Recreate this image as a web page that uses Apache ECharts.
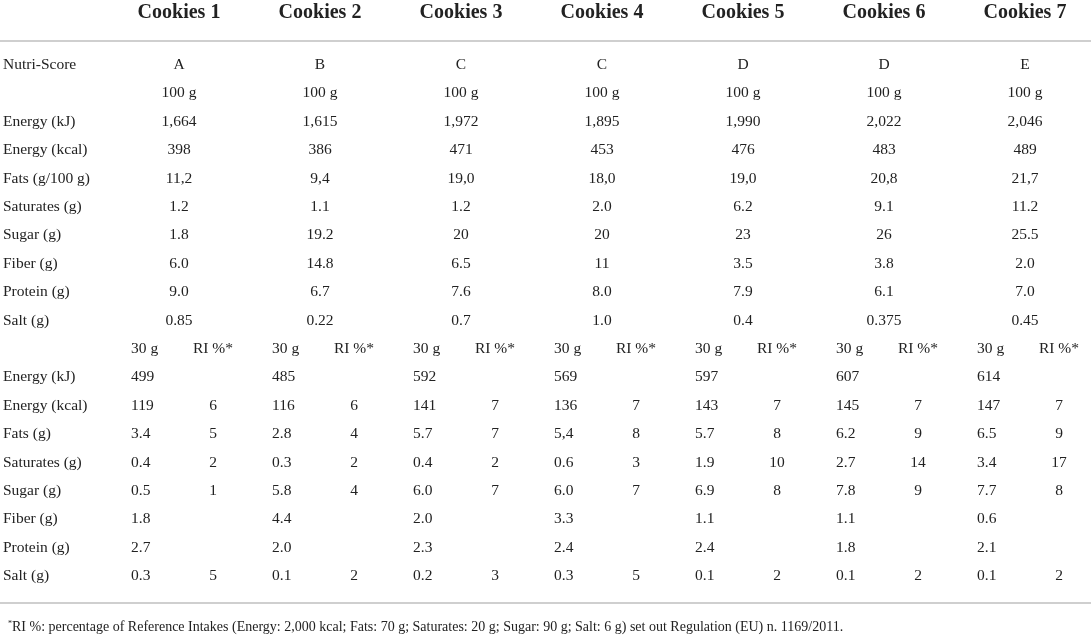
<!DOCTYPE html>
<html>
<head>
<meta charset="utf-8">
<title>Cookies nutrition table</title>
<script src="https://cdn.jsdelivr.net/npm/echarts@6/dist/echarts.min.js"></script>
<style>
  html, body { margin: 0; padding: 0; background: #fff; }
  #container { width: 1091px; height: 636px; }
</style>
</head>
<body>
<div id="container"></div>
<script>
// column headers
var cookies = ['Cookies 1', 'Cookies 2', 'Cookies 3', 'Cookies 4', 'Cookies 5', 'Cookies 6', 'Cookies 7'];

// row labels (top block per 100 g, bottom block per 30 g)
var rowLabels = [
    'Nutri-Score', '', 'Energy (kJ)', 'Energy (kcal)', 'Fats (g/100 g)', 'Saturates (g)',
    'Sugar (g)', 'Fiber (g)', 'Protein (g)', 'Salt (g)',
    '', 'Energy (kJ)', 'Energy (kcal)', 'Fats (g)', 'Saturates (g)', 'Sugar (g)',
    'Fiber (g)', 'Protein (g)', 'Salt (g)'
];

// per 100 g
var nutriScore = ['A', 'B', 'C', 'C', 'D', 'D', 'E'];
var unit100 = ['100 g', '100 g', '100 g', '100 g', '100 g', '100 g', '100 g'];
var energyKj100 = ['1,664', '1,615', '1,972', '1,895', '1,990', '2,022', '2,046'];
var energyKcal100 = ['398', '386', '471', '453', '476', '483', '489'];
var fats100 = ['11,2', '9,4', '19,0', '18,0', '19,0', '20,8', '21,7'];
var saturates100 = ['1.2', '1.1', '1.2', '2.0', '6.2', '9.1', '11.2'];
var sugar100 = ['1.8', '19.2', '20', '20', '23', '26', '25.5'];
var fiber100 = ['6.0', '14.8', '6.5', '11', '3.5', '3.8', '2.0'];
var protein100 = ['9.0', '6.7', '7.6', '8.0', '7.9', '6.1', '7.0'];
var salt100 = ['0.85', '0.22', '0.7', '1.0', '0.4', '0.375', '0.45'];

// per 30 g and RI %
var unit30 = ['30 g', '30 g', '30 g', '30 g', '30 g', '30 g', '30 g'];
var riHead = ['RI %*', 'RI %*', 'RI %*', 'RI %*', 'RI %*', 'RI %*', 'RI %*'];
var energyKj30 = ['499', '485', '592', '569', '597', '607', '614'];
var energyKcal30 = ['119', '116', '141', '136', '143', '145', '147'];
var energyKcalRI = ['6', '6', '7', '7', '7', '7', '7'];
var fats30 = ['3.4', '2.8', '5.7', '5,4', '5.7', '6.2', '6.5'];
var fatsRI = ['5', '4', '7', '8', '8', '9', '9'];
var saturates30 = ['0.4', '0.3', '0.4', '0.6', '1.9', '2.7', '3.4'];
var saturatesRI = ['2', '2', '2', '3', '10', '14', '17'];
var sugar30 = ['0.5', '5.8', '6.0', '6.0', '6.9', '7.8', '7.7'];
var sugarRI = ['1', '4', '7', '7', '8', '9', '8'];
var fiber30 = ['1.8', '4.4', '2.0', '3.3', '1.1', '1.1', '0.6'];
var protein30 = ['2.7', '2.0', '2.3', '2.4', '2.4', '1.8', '2.1'];
var salt30 = ['0.3', '0.1', '0.2', '0.3', '0.1', '0.1', '0.1'];
var saltRI = ['5', '2', '3', '5', '2', '2', '2'];

var footnote = 'RI %: percentage of Reference Intakes (Energy: 2,000 kcal; Fats: 70 g; Saturates: 20 g; Sugar: 90 g; Salt: 6 g) set out Regulation (EU) n. 1169/2011.';

var FONT = '"Liberation Serif", "DejaVu Serif", serif';
var TEXT_COLOR = '#222';
var LINE_COLOR = '#cfcfcf';

// row index -> [values, kind]   kind: c = centred, g = 30 g column, r = RI column
var rowCols = [
    [[nutriScore, 'c']], [[unit100, 'c']], [[energyKj100, 'c']], [[energyKcal100, 'c']],
    [[fats100, 'c']], [[saturates100, 'c']], [[sugar100, 'c']], [[fiber100, 'c']],
    [[protein100, 'c']], [[salt100, 'c']],
    [[unit30, 'g'], [riHead, 'r']],
    [[energyKj30, 'g']],
    [[energyKcal30, 'g'], [energyKcalRI, 'r']],
    [[fats30, 'g'], [fatsRI, 'r']],
    [[saturates30, 'g'], [saturatesRI, 'r']],
    [[sugar30, 'g'], [sugarRI, 'r']],
    [[fiber30, 'g']],
    [[protein30, 'g']],
    [[salt30, 'g'], [saltRI, 'r']]
];

var cells = [];
rowCols.forEach(function (cols, row) {
    cols.forEach(function (c) {
        c[0].forEach(function (txt, col) {
            cells.push({ col: col, row: row, text: txt, kind: c[1] });
        });
    });
});

var myChart = echarts.init(document.getElementById('container'));

var option = {
    animation: false,
    backgroundColor: '#fff',
    title: {
        left: 3,
        top: 615,
        text: '{s|*}' + footnote,
        textStyle: {
            fontFamily: FONT,
            fontSize: 14,
            fontWeight: 'normal',
            color: TEXT_COLOR,
            rich: {
                s: { fontFamily: FONT, fontSize: 8, verticalAlign: 'top', color: TEXT_COLOR }
            }
        }
    },
    // table rules, full width
    graphic: [
        { type: 'line', shape: { x1: 0, y1: 41, x2: 1091, y2: 41 }, style: { stroke: LINE_COLOR, lineWidth: 2 } },
        { type: 'line', shape: { x1: 0, y1: 603, x2: 1091, y2: 603 }, style: { stroke: LINE_COLOR, lineWidth: 2 } }
    ],
    grid: {
        left: 108.5,
        top: 50.8,
        width: 987,
        height: 539.6,
        outerBoundsMode: 'none'
    },
    xAxis: {
        type: 'category',
        position: 'top',
        offset: 9.8,
        data: cookies,
        axisLine: { show: false },
        axisTick: { show: false },
        axisLabel: {
            interval: 0,
            margin: 18,
            fontFamily: FONT,
            fontSize: 20,
            fontWeight: 'bold',
            color: TEXT_COLOR
        },
        splitLine: { show: false }
    },
    yAxis: {
        type: 'category',
        inverse: true,
        data: rowLabels.map(function (l, i) { return 'r' + i; }),
        axisLine: { show: false },
        axisTick: { show: false },
        splitLine: { show: false },
        axisLabel: {
            interval: 0,
            align: 'left',
            margin: 105.5,
            fontFamily: FONT,
            fontSize: 15.5,
            color: TEXT_COLOR,
            formatter: function (v, i) { return rowLabels[i]; }
        }
    },
    series: [
        {
            type: 'custom',
            silent: true,
            data: cells.map(function (c) { return [c.col, c.row]; }),
            renderItem: function (params, api) {
                var cell = cells[params.dataIndex];
                var p = api.coord([api.value(0), api.value(1)]);
                var dx = 0, align = 'center';
                if (cell.kind === 'g') { dx = -48; align = 'left'; }
                if (cell.kind === 'r') { dx = 34; }
                return {
                    type: 'text',
                    x: p[0] + dx,
                    y: p[1],
                    style: {
                        text: cell.text,
                        fontFamily: FONT,
                        fontSize: 15.5,
                        fill: TEXT_COLOR,
                        align: align,
                        verticalAlign: 'middle'
                    }
                };
            }
        }
    ]
};
myChart.setOption(option);
</script>
</body>
</html>
